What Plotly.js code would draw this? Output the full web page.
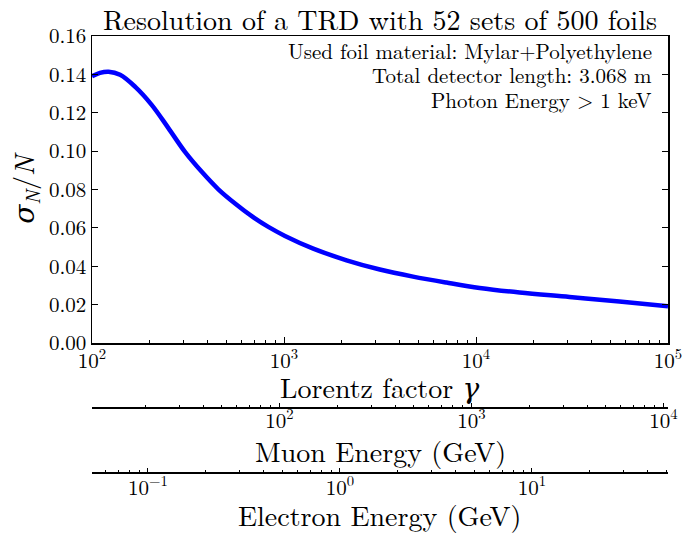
<!DOCTYPE html>
<html>
<head>
<meta charset="utf-8">
<script src="https://cdn.plot.ly/plotly-3.0.1.min.js"></script>
<style>html,body{margin:0;padding:0;background:#fff;}#chart{width:682px;height:533px;}</style>
</head>
<body>
<div id="chart"></div>
<script>
// Lorentz factor values
const gamma = [100, 110, 122, 140, 168, 205, 250, 305, 373, 455, 556, 679, 829, 1012, 1420, 2118, 3156, 4700, 7015, 10450, 16870, 30700, 55850, 100000];
// Resolution sigma_N / N
const sigma = [0.1390, 0.1408, 0.1414, 0.1398, 0.1335, 0.1240, 0.1120, 0.0996, 0.0892, 0.0801, 0.0727, 0.0661, 0.0605, 0.0558, 0.0492, 0.0431, 0.0383, 0.0346, 0.0315, 0.0287, 0.0263, 0.0240, 0.0216, 0.0192];

const yTickVals = [0, 0.02, 0.04, 0.06, 0.08, 0.10, 0.12, 0.14, 0.16];
const gammaTickVals = [100, 1000, 10000, 100000];
const gammaTickText = ['10<sup>2</sup>', '10<sup>3</sup>', '10<sup>4</sup>', '10<sup>5</sup>'];
const muonTickVals = [100, 1000, 10000];
const muonTickText = ['10<sup>2</sup>', '10<sup>3</sup>', '10<sup>4</sup>'];
const elecTickVals = [0.1, 1, 10];
const elecTickText = ['10<sup>\u22121</sup>', '10<sup>0</sup>', '10<sup>1</sup>'];
const annotationLines = ['Used foil material: Mylar+Polyethylene', 'Total detector length: 3.068 m', 'Photon Energy &gt; 1 keV'];
const axisTitles = ['Lorentz factor <i>γ</i>', 'Muon Energy (GeV)', 'Electron Energy (GeV)'];

const muonMass = 0.10566;   // GeV
const electronMass = 0.000511; // GeV
const gammaRange = [100, 100000];

const FONT = 'Latin Modern Roman, CMU Serif, DejaVu Serif, serif';

function minorVals(lo, hi) {
  const out = [];
  for (let e = Math.floor(Math.log10(lo)); e <= Math.ceil(Math.log10(hi)); e++) {
    for (let d = 2; d <= 9; d++) {
      const v = d * Math.pow(10, e);
      if (v >= lo && v <= hi) out.push(v);
    }
  }
  return out;
}

const gr = gammaRange.map(Math.log10);
const mr = gammaRange.map(g => Math.log10(g * muonMass));
const er = gammaRange.map(g => Math.log10(g * electronMass));

const traces = [
  {x: gamma, y: sigma, type: 'scatter', mode: 'lines', line: {color: '#0000ff', width: 4.5, shape: 'spline', smoothing: 1.0}, xaxis: 'x', yaxis: 'y', hoverinfo: 'skip'},
  {x: [gammaRange[0] * muonMass, gammaRange[1] * muonMass], y: [null, null], type: 'scatter', mode: 'lines', xaxis: 'x2', yaxis: 'y', showlegend: false, hoverinfo: 'skip'},
  {x: [gammaRange[0] * electronMass, gammaRange[1] * electronMass], y: [null, null], type: 'scatter', mode: 'lines', xaxis: 'x3', yaxis: 'y', showlegend: false, hoverinfo: 'skip'}
];

const TICK = 21;
const TITLE = 28;

const axisCommon = {
  type: 'log', showgrid: false, zeroline: false, showline: true, linecolor: '#000', linewidth: 1.5,
  ticks: 'inside', tickcolor: '#000', tickfont: {family: FONT, size: TICK, color: '#000'},
  ticklabeloverflow: 'allow'
};

// plot-area pixel geometry helpers for the stacked axis titles
const MT = 36, MB = 8, H = 533;
const paperY = py => (H - MB - py) / (H - MT - MB);
const titleY = [386, 450, 514];

const layout = {
  width: 682, height: H,
  margin: {l: 92, r: 14, t: MT, b: MB},
  paper_bgcolor: '#fff', plot_bgcolor: '#fff',
  showlegend: false,
  font: {family: FONT, color: '#000'},
  title: {text: 'Resolution of a TRD with 52 sets of 500 foils', font: {family: FONT, size: TITLE, color: '#000'}, xref: 'paper', x: 0.5, xanchor: 'center', yref: 'container', y: 0.962, yanchor: 'middle'},
  xaxis: Object.assign({}, axisCommon, {
    range: gr, domain: [0, 1], anchor: 'y', mirror: true, ticklen: 6, tickwidth: 1,
    tickvals: gammaTickVals, ticktext: gammaTickText, ticklabelstandoff: -2,
    minor: {ticks: 'inside', ticklen: 3, tickcolor: '#000', tickvals: minorVals(gammaRange[0], gammaRange[1]), showgrid: false}
  }),
  xaxis2: Object.assign({}, axisCommon, {
    range: mr, domain: [0, 1], anchor: 'free', overlaying: 'x', position: paperY(407), ticklen: 4, tickwidth: 1,
    tickvals: muonTickVals, ticktext: muonTickText, side: 'bottom', ticklabelstandoff: -6,
    minor: {ticks: 'inside', ticklen: 2, tickcolor: '#000', tickvals: minorVals(gammaRange[0] * muonMass, gammaRange[1] * muonMass), showgrid: false}
  }),
  xaxis3: Object.assign({}, axisCommon, {
    range: er, domain: [0, 1], anchor: 'free', overlaying: 'x', position: paperY(472), ticklen: 4, tickwidth: 1,
    tickvals: elecTickVals, ticktext: elecTickText, side: 'bottom', ticklabelstandoff: -4,
    minor: {ticks: 'inside', ticklen: 2, tickcolor: '#000', tickvals: minorVals(gammaRange[0] * electronMass, gammaRange[1] * electronMass), showgrid: false}
  }),
  yaxis: {
    range: [0, 0.16], domain: [paperY(343), 1], anchor: 'x',
    showgrid: false, zeroline: false, showline: true, linecolor: '#000', linewidth: 1.5, mirror: 'ticks',
    ticks: 'inside', ticklen: 6, tickcolor: '#000', tickvals: yTickVals, tickformat: '.2f',
    tickfont: {family: FONT, size: TICK, color: '#000'},
    title: {text: '<i>σ</i><sub><i>N</i></sub>/<i>N</i>', font: {family: FONT, size: TITLE, color: '#000'}, standoff: 6}
  },
  annotations: annotationLines.map((t, i) => ({
    text: t, xref: 'x domain', yref: 'y domain', x: 0.975, y: 0.956 - i * 0.081,
    xanchor: 'right', yanchor: 'middle', showarrow: false,
    font: {family: FONT, size: 21, color: '#000'}
  })).concat(axisTitles.map((t, i) => ({
    text: t, xref: 'paper', yref: 'paper', x: 0.5, y: paperY(titleY[i]),
    xanchor: 'center', yanchor: 'middle', showarrow: false,
    font: {family: FONT, size: TITLE, color: '#000'}
  })))
};

Plotly.newPlot('chart', traces, layout, {displayModeBar: false, staticPlot: true});
</script>
</body>
</html>
